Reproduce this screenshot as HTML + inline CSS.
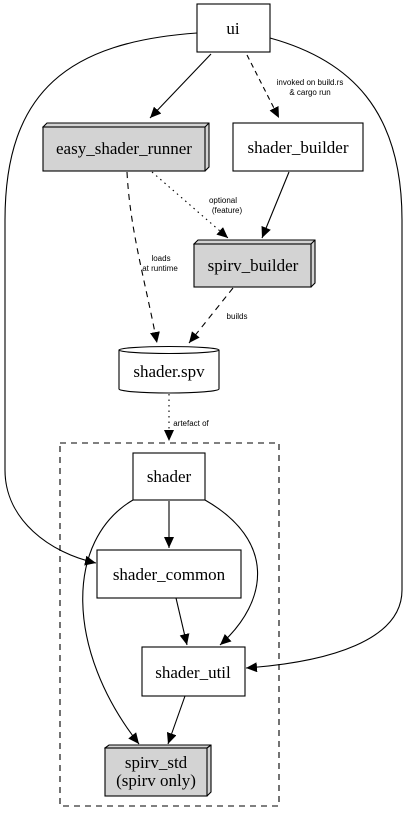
<!DOCTYPE html>
<html><head><style>html,body{margin:0;padding:0;background:#fff}svg{display:block}
</style></head><body>
<svg width="407" height="823" viewBox="0 0 407 823" xmlns="http://www.w3.org/2000/svg">
<defs>
<marker id="a" markerUnits="userSpaceOnUse" markerWidth="12" markerHeight="10" refX="11" refY="5" orient="auto">
<path d="M0,0 L11,5 L0,10 z" fill="#000"/>
</marker>
</defs>
<g fill="none" stroke="#000" stroke-width="1.1">
<path d="M211,54 L150,118" marker-end="url(#a)"/>
<path d="M247,55 L279,118" stroke-dasharray="5,4" marker-end="url(#a)"/>
<path d="M197,33 C70,42 5,90 5,220 L5,470 C5,520 50,553 96,563" marker-end="url(#a)"/>
<path d="M270,38 C350,60 402,110 402,220 L402,590 C402,640 330,662 246,668" marker-end="url(#a)"/>
<path d="M152,172 L228,238" stroke-dasharray="1.5,4" marker-end="url(#a)"/>
<path d="M127,172 C130,230 145,280 157,343" stroke-dasharray="6,5" marker-end="url(#a)"/>
<path d="M289,172 L262,238" marker-end="url(#a)"/>
<path d="M233,288 L189,343" stroke-dasharray="6,5" marker-end="url(#a)"/>
<path d="M169,394 L169,441" stroke-dasharray="1.5,4" marker-end="url(#a)"/>
<path d="M169,501 L169,548" marker-end="url(#a)"/>
<path d="M205,500 C275,540 270,600 220,645" marker-end="url(#a)"/>
<path d="M133,500 C65,540 65,650 139,744" marker-end="url(#a)"/>
<path d="M176,598 L187,645" marker-end="url(#a)"/>
<path d="M185,696 L168,744" marker-end="url(#a)"/>
<rect x="60" y="443" width="219" height="363" stroke-dasharray="6,5"/>
</g>
<g stroke="#000" stroke-width="1.1">
<rect x="197" y="4" width="73" height="48" fill="#fff"/>
<rect x="233" y="123" width="130" height="48" fill="#fff"/>
<path d="M43,127 L47,123 L209,123 L209,167 L205,171 Z" fill="#d3d3d3"/>
<rect x="43" y="127" width="162" height="44" fill="#d3d3d3"/>
<path d="M205,127 L209,123" fill="none"/>
<path d="M194,244 L198,240 L315,240 L315,283 L311,287 Z" fill="#d3d3d3"/>
<rect x="194" y="244" width="117" height="43" fill="#d3d3d3"/>
<path d="M311,244 L315,240" fill="none"/>
<path d="M119,350 L119,389 A50,4 0 0 0 219,389 L219,350" fill="#fff"/>
<ellipse cx="169" cy="350" rx="50" ry="3.5" fill="#fff"/>
<rect x="133" y="453" width="72" height="47" fill="#fff"/>
<rect x="97" y="550" width="144" height="48" fill="#fff"/>
<rect x="142" y="647" width="103" height="49" fill="#fff"/>
<path d="M105,748 L109,745 L211,745 L211,792 L207,796 Z" fill="#d3d3d3"/>
<rect x="105" y="748" width="102" height="48" fill="#d3d3d3"/>
<path d="M207,748 L211,745" fill="none"/>
</g>
<g text-anchor="middle" fill="#000" style="font-family:'Liberation Serif','Times New Roman','DejaVu Serif',serif;font-size:17px">
<text x="233" y="34">ui</text>
<text x="124" y="154">easy_shader_runner</text>
<text x="298" y="153">shader_builder</text>
<text x="253" y="271">spirv_builder</text>
<text x="169" y="377">shader.spv</text>
<text x="169" y="482">shader</text>
<text x="169" y="580">shader_common</text>
<text x="193" y="678">shader_util</text>
<text x="156" y="768">spirv_std</text>
<text x="156" y="786">(spirv only)</text>
</g>
<g text-anchor="middle" fill="#000" style="font-family:'Liberation Sans',sans-serif;font-size:8px">
<text x="310" y="85">invoked on build.rs</text>
<text x="310" y="95">&amp; cargo run</text>
<text x="223" y="203">optional</text>
<text x="227" y="213">(feature)</text>
<text x="161" y="261">loads</text>
<text x="160" y="271">at runtime</text>
<text x="237" y="319">builds</text>
<text x="191" y="426">artefact of</text>
</g>
</svg>
</body></html>
